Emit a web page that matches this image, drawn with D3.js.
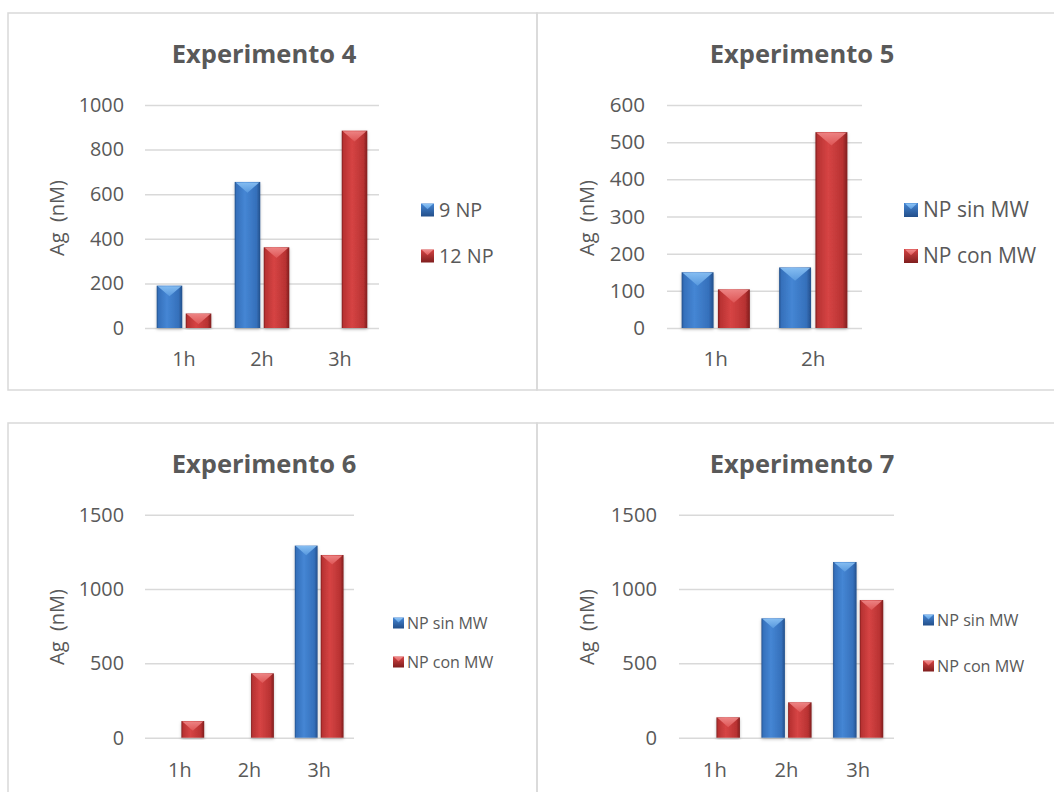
<!DOCTYPE html>
<html>
<head>
<meta charset="utf-8">
<script src="https://cdn.jsdelivr.net/npm/d3@7/dist/d3.min.js"></script>
<style>
  html, body { margin: 0; padding: 0; background: #fff; }
  svg { display: block; font-family: "Open Sans", "DejaVu Sans", sans-serif; }
</style>
</head>
<body>
<svg id="chart" width="1054" height="792"></svg>
<script>
// ---------- DATA ----------
const exp4Categories = ["1h", "2h", "3h"];
const exp4Series = ["9 NP", "12 NP"];
const exp4Values9NP = [190, 655, null];
const exp4Values12NP = [65, 362, 885];
const exp4Ticks = [0, 200, 400, 600, 800, 1000];

const exp5Categories = ["1h", "2h"];
const exp5Series = ["NP sin MW", "NP con MW"];
const exp5ValuesSinMW = [150, 163];
const exp5ValuesConMW = [104, 527];
const exp5Ticks = [0, 100, 200, 300, 400, 500, 600];

const exp6Categories = ["1h", "2h", "3h"];
const exp6Series = ["NP sin MW", "NP con MW"];
const exp6ValuesSinMW = [null, null, 1292];
const exp6ValuesConMW = [112, 433, 1229];
const exp6Ticks = [0, 500, 1000, 1500];

const exp7Categories = ["1h", "2h", "3h"];
const exp7Series = ["NP sin MW", "NP con MW"];
const exp7ValuesSinMW = [null, 803, 1182];
const exp7ValuesConMW = [137, 238, 926];
const exp7Ticks = [0, 500, 1000, 1500];

const titles = ["Experimento 4", "Experimento 5", "Experimento 6", "Experimento 7"];
const yAxisLabel = "Ag\u00a0 (nM)";

// ---------- STYLE / LAYOUT ----------
const textColor = "#595959";
const gridColor = "#d9d9d9";
const borderColor = "#d9d9d9";

const svg = d3.select("#chart");
const defs = svg.append("defs");

function makeGradients(id, edge, mid, light, topLight, topMid) {
  const g = defs.append("linearGradient").attr("id", id).attr("x1", "0").attr("x2", "1").attr("y1", "0").attr("y2", "0");
  g.append("stop").attr("offset", "0").attr("stop-color", edge);
  g.append("stop").attr("offset", "0.07").attr("stop-color", mid);
  g.append("stop").attr("offset", "0.4").attr("stop-color", light);
  g.append("stop").attr("offset", "0.85").attr("stop-color", mid);
  g.append("stop").attr("offset", "1").attr("stop-color", edge);
  const t = defs.append("linearGradient").attr("id", id + "Top").attr("x1", "0").attr("x2", "0").attr("y1", "0").attr("y2", "1");
  t.append("stop").attr("offset", "0").attr("stop-color", topLight);
  t.append("stop").attr("offset", "1").attr("stop-color", topMid);
  const s = defs.append("linearGradient").attr("id", id + "Sw").attr("x1", "0").attr("x2", "0").attr("y1", "0").attr("y2", "1");
  s.append("stop").attr("offset", "0").attr("stop-color", light);
  s.append("stop").attr("offset", "1").attr("stop-color", edge);
}
makeGradients("gBlue", "#234f8a", "#3570bb", "#4586d4", "#8cc3f5", "#5a9be0");
makeGradients("gRed", "#7f1e1e", "#b83232", "#d64444", "#f08a8a", "#e05858");

const shadow = defs.append("filter").attr("id", "shadow").attr("x", "-20%").attr("y", "-5%").attr("width", "140%").attr("height", "115%");
shadow.append("feDropShadow").attr("dx", 0).attr("dy", 1.5).attr("stdDeviation", 1.5).attr("flood-color", "#000").attr("flood-opacity", 0.25);

const seriesFills = ["gBlue", "gRed"];

// Panel borders
svg.append("rect").attr("x", 8).attr("y", 13).attr("width", 529).attr("height", 377)
  .attr("fill", "none").attr("stroke", borderColor).attr("stroke-width", 1.5);
svg.append("rect").attr("x", 537).attr("y", 13).attr("width", 600).attr("height", 377)
  .attr("fill", "none").attr("stroke", borderColor).attr("stroke-width", 1.5);
svg.append("rect").attr("x", 8).attr("y", 423).attr("width", 529).attr("height", 500)
  .attr("fill", "none").attr("stroke", borderColor).attr("stroke-width", 1.5);
svg.append("rect").attr("x", 537).attr("y", 423).attr("width", 600).attr("height", 500)
  .attr("fill", "none").attr("stroke", borderColor).attr("stroke-width", 1.5);

const panels = [
  { title: titles[0], categories: exp4Categories, series: exp4Series, values: [exp4Values9NP, exp4Values12NP], ticks: exp4Ticks,
    x0: 145, x1: 379, y0: 105, y1: 328, titleX: 264, titleY: 62.5, yLabelX: 57, yLabelY: 218,
    tickX: 124, tickSize: 19.8, catY: 359, legX: 421, legY: [210, 256], legSw: 13, legText: 439, legSize: 19.8 },
  { title: titles[1], categories: exp5Categories, series: exp5Series, values: [exp5ValuesSinMW, exp5ValuesConMW], ticks: exp5Ticks,
    x0: 667, x1: 862, y0: 105, y1: 328, titleX: 802, titleY: 62.5, yLabelX: 587, yLabelY: 218,
    tickX: 645, tickSize: 20.6, catY: 359, legX: 904, legY: [210, 256], legSw: 14, legText: 923, legSize: 21 },
  { title: titles[2], categories: exp6Categories, series: exp6Series, values: [exp6ValuesSinMW, exp6ValuesConMW], ticks: exp6Ticks,
    x0: 145, x1: 354, y0: 514.7, y1: 737.7, titleX: 264, titleY: 472.7, yLabelX: 57, yLabelY: 627,
    tickX: 124, tickSize: 19.8, catY: 770, legX: 393, legY: [623, 662], legSw: 11, legText: 407, legSize: 16 },
  { title: titles[3], categories: exp7Categories, series: exp7Series, values: [exp7ValuesSinMW, exp7ValuesConMW], ticks: exp7Ticks,
    x0: 679, x1: 894, y0: 514.7, y1: 737.7, titleX: 802, titleY: 472.7, yLabelX: 587, yLabelY: 627,
    tickX: 657, tickSize: 20.2, catY: 770, legX: 923, legY: [620, 666], legSw: 11, legText: 937, legSize: 16.2 }
];

panels.forEach(p => {
  const g = svg.append("g");
  const yMax = d3.max(p.ticks);
  const y = d3.scaleLinear().domain([0, yMax]).range([p.y1, p.y0]);
  const x = d3.scaleBand().domain(p.categories).range([p.x0, p.x1]).paddingInner(0.3).paddingOuter(0.15);
  const xs = d3.scaleBand().domain(d3.range(p.series.length)).range([0, x.bandwidth()]).paddingInner(0.12);

  // title
  g.append("text").attr("x", p.titleX).attr("y", p.titleY).attr("text-anchor", "middle")
    .attr("font-size", 25.5).attr("font-weight", "bold").attr("fill", textColor).text(p.title);

  // gridlines via axis
  const yAxis = d3.axisLeft(y).tickValues(p.ticks).tickSize(-(p.x1 - p.x0)).tickFormat(d3.format("d")).tickPadding(p.x0 - p.tickX);
  const ya = g.append("g").attr("transform", `translate(${p.x0},0)`).call(yAxis);
  ya.select(".domain").remove();
  ya.selectAll(".tick line").attr("stroke", gridColor).attr("stroke-width", 1.5);
  ya.selectAll(".tick text").attr("fill", textColor).attr("font-size", p.tickSize)
    .attr("font-family", "'Open Sans', sans-serif");

  // category axis
  const xAxis = d3.axisBottom(x).tickSize(0).tickPadding(0);
  const xa = g.append("g").attr("transform", `translate(0,${p.catY})`).call(xAxis);
  xa.select(".domain").remove();
  xa.selectAll(".tick text").attr("fill", textColor).attr("font-size", p.tickSize)
    .attr("font-family", "'Open Sans', sans-serif").attr("dy", "0.35em").attr("y", 0);

  // y label
  g.append("text").attr("transform", `translate(${p.yLabelX},${p.yLabelY}) rotate(-90)`)
    .attr("text-anchor", "middle").attr("dy", "0.35em").attr("font-size", 20).attr("fill", textColor).text(yAxisLabel);

  // bars
  p.series.forEach((s, si) => {
    p.values[si].forEach((v, ci) => {
      if (v === null || v === undefined) return;
      const bx = x(p.categories[ci]) + xs(si);
      const bw = xs.bandwidth();
      const by = y(v);
      const bh = y(0) - by;
      const bg = g.append("g");
      bg.append("rect").attr("x", bx).attr("y", by).attr("width", bw).attr("height", bh)
        .attr("fill", `url(#${seriesFills[si]})`).attr("filter", "url(#shadow)");
      const d = Math.min(bw * 0.42, bh);
      bg.append("path")
        .attr("d", `M${bx + 1},${by + 0.5} L${bx + bw - 1},${by + 0.5} L${bx + bw / 2},${by + d} Z`)
        .attr("fill", `url(#${seriesFills[si]}Top)`).attr("opacity", 0.9);
    });
  });

  // legend
  p.series.forEach((s, si) => {
    const ly = p.legY[si];
    const sw = p.legSw;
    const lg = g.append("g");
    lg.append("rect").attr("x", p.legX).attr("y", ly - sw / 2).attr("width", sw).attr("height", sw)
      .attr("fill", `url(#${seriesFills[si]}Sw)`);
    lg.append("path")
      .attr("d", `M${p.legX + 1},${ly - sw / 2 + 0.5} L${p.legX + sw - 1},${ly - sw / 2 + 0.5} L${p.legX + sw / 2},${ly - sw / 2 + sw * 0.45} Z`)
      .attr("fill", `url(#${seriesFills[si]}Top)`);
    lg.append("text").attr("x", p.legText).attr("y", ly).attr("dy", "0.35em")
      .attr("font-size", p.legSize).attr("fill", textColor).text(s);
  });
});
</script>
</body>
</html>
